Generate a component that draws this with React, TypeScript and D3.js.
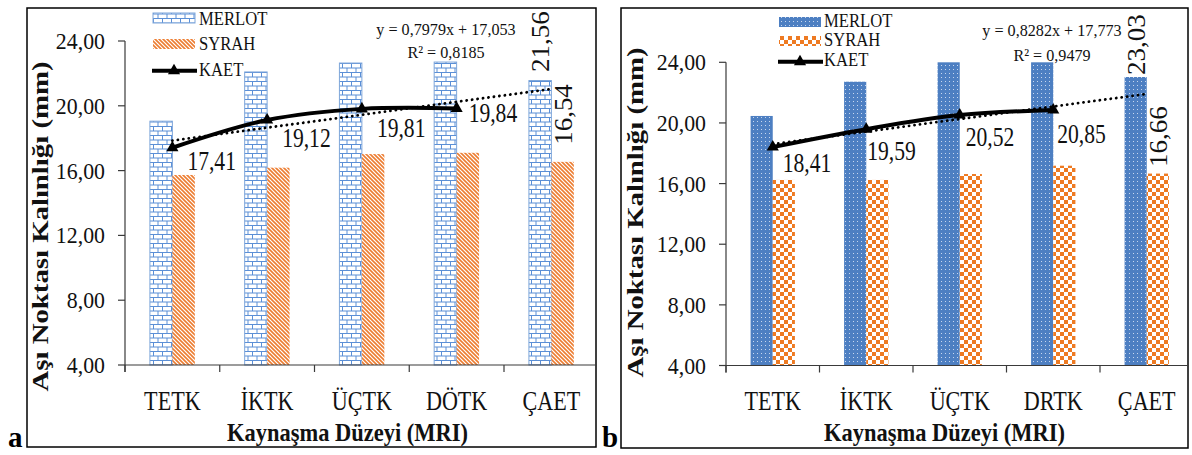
import React from "react";
import * as d3 from "d3";

// ---------------- DATA ----------------
const categoriesA = ["TETK", "İKTK", "ÜÇTK", "DÖTK", "ÇAET"];
const merlotA = [19.05, 22.09, 22.64, 22.7, 21.56];
const syrahA = [15.73, 16.18, 17.02, 17.1, 16.54];
const kaetA = [17.41, 19.12, 19.81, 19.84];
const trendA = [0.7979, 17.053];
const r2A = 0.8185;

const categoriesB = ["TETK", "İKTK", "ÜÇTK", "DRTK", "ÇAET"];
const merlotB = [20.46, 22.72, 24.0, 24.0, 23.03];
const syrahB = [16.24, 16.24, 16.63, 17.18, 16.66];
const kaetB = [18.41, 19.59, 20.52, 20.85];
const trendB = [0.8282, 17.773];
const r2B = 0.9479;

const yTicks = [4, 8, 12, 16, 20, 24];
const seriesNames = ["MERLOT", "SYRAH", "KAET"];
const xTitle = "Kaynaşma Düzeyi (MRI)";
const yTitle = "Aşı Noktası Kalınlığı (mm)";

// ---------------- STYLE ----------------
const FONT = '"Liberation Serif", "Times New Roman", Times, serif';
const fmt = (v: number) => v.toFixed(2).replace(".", ",");
const fmtEq = (v: number) => String(v).replace(".", ",");

type Layout = {
  frame: [number, number, number, number];
  plotLeft: number;
  band: number;
  yRange: [number, number];
  merlotFill: string;
  syrahFill: string;
  merlotStroke: string;
  labelDx: number[];
  labelDy: number[];
  rotGap: [number, number];
  legend: { x: number; y: number[]; textX: number; base: number[] };
  eq: { x: number; y: [number, number] };
  yTitle: { x: number; y: number };
  xTitleX: number;
  letter: { ch: string; x: number };
};

const layoutA: Layout = {
  frame: [27, 8, 596, 447],
  plotLeft: 125,
  band: 94.75,
  yRange: [365, 41],
  merlotFill: "url(#brick)",
  syrahFill: "url(#stripe)",
  merlotStroke: "#7ea6da",
  labelDx: [15, 15, 15, 12],
  labelDy: [22, 27, 28, 14],
  rotGap: [8.5, 17],
  legend: { x: 153, y: [13, 39, 70.7], textX: 199, base: [25, 50, 76] },
  eq: { x: 446, y: [35, 58] },
  yTitle: { x: 48, y: 226.5 },
  xTitleX: 347.5,
  letter: { ch: "a", x: 8 },
};

const layoutB: Layout = {
  frame: [621, 8, 1188, 448],
  plotLeft: 726,
  band: 93.5,
  yRange: [365.5, 62.3],
  merlotFill: "url(#dots)",
  syrahFill: "url(#checker)",
  merlotStroke: "none",
  labelDx: [10, 1, 6, 4],
  labelDy: [25, 31, 31, 33],
  rotGap: [2, 6.6],
  legend: { x: 779, y: [17, 36, 61.7], textX: 824, base: [27, 46, 66] },
  eq: { x: 1052, y: [36, 61] },
  yTitle: { x: 643, y: 212.5 },
  xTitleX: 944.5,
  letter: { ch: "b", x: 602 },
};

type PanelProps = {
  cats: string[];
  merlot: number[];
  syrah: number[];
  kaet: number[];
  trend: number[];
  r2: number;
  L: Layout;
};

const tri = d3.symbol(d3.symbolTriangle, 64)() as string;

function Panel({ cats, merlot, syrah, kaet, trend, r2, L }: PanelProps) {
  const [fx0, fy0, fx1, fy1] = L.frame;
  const x = d3
    .scaleBand<string>()
    .domain(cats)
    .range([L.plotLeft, L.plotLeft + L.band * cats.length])
    .paddingInner(0)
    .paddingOuter(0);
  const y = d3.scaleLinear().domain([4, 24]).range(L.yRange);
  const bw = x.bandwidth();
  const cx = (c: string) => (x(c) as number) + bw / 2;
  const barW = bw * 0.237;
  const y0 = y(4);

  const linePts: [number, number][] = kaet.map((v, i) => [cx(cats[i]), y(v)]);
  const curve = d3
    .line<[number, number]>()
    .curve(d3.curveCatmullRom.alpha(0.5))(linePts) as string;

  const tLine = d3.line<[number, number]>()([
    [cx(cats[0]), y(trend[0] * 1 + trend[1])],
    [cx(cats[cats.length - 1]), y(trend[0] * cats.length + trend[1])],
  ]) as string;

  const axisColor = "#3a3a3a";
  const xTickPos = d3.range(cats.length + 1).map((i) => L.plotLeft + i * L.band).filter((v) => v < fx1 - 1);
  const last = cats.length - 1;
  const lastC = cx(cats[last]);

  return (
    <g>
      <rect x={fx0} y={fy0} width={fx1 - fx0} height={fy1 - fy0} fill="#fff" stroke="#000" strokeWidth={1.5} />

      {/* bars */}
      {cats.map((c, i) => (
        <g key={c}>
          <rect x={cx(c) - barW} y={y(merlot[i])} width={barW} height={y0 - y(merlot[i])} fill={L.merlotFill} stroke={L.merlotStroke} strokeWidth={1} />
          <rect x={cx(c)} y={y(syrah[i])} width={barW} height={y0 - y(syrah[i])} fill={L.syrahFill} />
        </g>
      ))}

      {/* axes */}
      <line x1={L.plotLeft} x2={L.plotLeft} y1={y(24)} y2={y0 + 7} stroke={axisColor} strokeWidth={1.2} />
      {yTicks.map((t) => (
        <g key={t}>
          <line x1={L.plotLeft - 7} x2={L.plotLeft} y1={y(t)} y2={y(t)} stroke={axisColor} strokeWidth={1.2} />
          <text
            transform={`translate(${L.plotLeft - 20},${y(t) + 8}) scale(0.95,1)`}
            textAnchor="end"
            fontFamily={FONT}
            fontSize={23}
            fill="#111"
          >
            {fmt(t)}
          </text>
        </g>
      ))}
      <line x1={L.plotLeft} x2={fx1} y1={y0} y2={y0} stroke={axisColor} strokeWidth={1.2} />
      {xTickPos.map((p) => (
        <line key={p} x1={p} x2={p} y1={y0} y2={y0 + 7} stroke={axisColor} strokeWidth={1.2} />
      ))}
      {cats.map((c) => (
        <text
          key={c}
          transform={`translate(${cx(c)},410) scale(0.82,1)`}
          textAnchor="middle"
          fontFamily={FONT}
          fontSize={27}
          fill="#111"
        >
          {c}
        </text>
      ))}

      {/* trend + KAET line */}
      <path d={tLine} fill="none" stroke="#000" strokeWidth={2.8} strokeDasharray="0.1 5.4" strokeLinecap="round" />
      <path d={curve} fill="none" stroke="#000" strokeWidth={4} strokeLinejoin="round" />
      {linePts.map(([px, py], i) => (
        <path key={i} d={tri} transform={`translate(${px},${py})`} fill="#000" />
      ))}
      {kaet.map((v, i) => (
        <text
          key={i}
          transform={`translate(${linePts[i][0] + L.labelDx[i]},${linePts[i][1] + L.labelDy[i]}) scale(0.8,1)`}
          fontFamily={FONT}
          fontSize={27}
          fill="#111"
        >
          {fmt(v)}
        </text>
      ))}

      {/* rotated labels on last category */}
      <text
        transform={`translate(${lastC - barW / 2 + 9},${y(merlot[last]) - L.rotGap[0]}) scale(0.9,1) rotate(-90)`}
        fontFamily={FONT}
        fontSize={27}
        fill="#111"
      >
        {fmt(merlot[last])}
      </text>
      <text
        transform={`translate(${lastC + barW / 2 + 9},${y(syrah[last]) - L.rotGap[1]}) scale(0.9,1) rotate(-90)`}
        fontFamily={FONT}
        fontSize={27}
        fill="#111"
      >
        {fmt(syrah[last])}
      </text>

      {/* equation */}
      <text transform={`translate(${L.eq.x},${L.eq.y[0]}) scale(0.95,1)`} textAnchor="middle" fontFamily={FONT} fontSize={17} fill="#111">
        {`y = ${fmtEq(trend[0])}x + ${fmtEq(trend[1])}`}
      </text>
      <text transform={`translate(${L.eq.x},${L.eq.y[1]}) scale(0.95,1)`} textAnchor="middle" fontFamily={FONT} fontSize={17} fill="#111">
        {`R² = ${fmtEq(r2)}`}
      </text>

      {/* legend */}
      <rect x={L.legend.x} y={L.legend.y[0]} width={42} height={10} fill={L.merlotFill} stroke={L.merlotStroke} strokeWidth={1} />
      <rect x={L.legend.x} y={L.legend.y[1]} width={42} height={10} fill={L.syrahFill} />
      <line x1={L.legend.x - 1} x2={L.legend.x + 44} y1={L.legend.y[2]} y2={L.legend.y[2]} stroke="#000" strokeWidth={4} />
      <path d={tri} transform={`translate(${L.legend.x + 21},${L.legend.y[2]})`} fill="#000" />
      {seriesNames.map((n, i) => (
        <text
          key={n}
          transform={`translate(${L.legend.textX},${L.legend.base[i]}) scale(0.9,1)`}
          fontFamily={FONT}
          fontSize={18.5}
          fill="#111"
        >
          {n}
        </text>
      ))}

      {/* titles */}
      <text
        transform={`translate(${L.yTitle.x},${L.yTitle.y}) scale(0.85,1) rotate(-90)`}
        textAnchor="middle"
        fontFamily={FONT}
        fontWeight="bold"
        fontSize={26}
        textLength={330}
        lengthAdjust="spacingAndGlyphs"
        fill="#111"
      >
        {yTitle}
      </text>
      <text
        x={L.xTitleX}
        y={441}
        textAnchor="middle"
        fontFamily={FONT}
        fontWeight="bold"
        fontSize={26}
        textLength={241}
        lengthAdjust="spacingAndGlyphs"
        fill="#111"
      >
        {xTitle}
      </text>
      <text x={L.letter.x} y={447} fontFamily={FONT} fontWeight="bold" fontSize={29} fill="#000">
        {L.letter.ch}
      </text>
    </g>
  );
}

export default function App() {
  return (
    <svg
      width={1192}
      height={455}
      viewBox="0 0 1192 455"
      style={{ position: "absolute", left: 0, top: 0, background: "#fff" }}
    >
      <defs>
        <pattern id="brick" width={9} height={9} patternUnits="userSpaceOnUse">
          <rect width={9} height={9} fill="#fff" />
          <path d="M0,0.5H9 M0,5H9 M0.5,0V5 M5,5V9" stroke="#5b8fd6" strokeWidth={1} fill="none" />
        </pattern>
        <pattern id="stripe" width={4} height={4} patternUnits="userSpaceOnUse">
          <rect width={4} height={4} fill="#fff" />
          <path d="M-1,-1L5,5 M-1,3L1,5 M3,-1L5,1" stroke="#ed7d31" strokeWidth={1.6} />
        </pattern>
        <pattern id="dots" width={4} height={4} patternUnits="userSpaceOnUse">
          <rect width={4} height={4} fill="#4d7fc2" />
          <rect x={1} y={1} width={1} height={1} fill="#c8d7ee" />
        </pattern>
        <pattern id="checker" width={8} height={8} patternUnits="userSpaceOnUse">
          <rect width={8} height={8} fill="#fff" />
          <rect x={0} y={0} width={4} height={4} fill="#ee7a22" />
          <rect x={4} y={4} width={4} height={4} fill="#ee7a22" />
        </pattern>
      </defs>
      <rect width={1192} height={455} fill="#fff" />
      <Panel cats={categoriesA} merlot={merlotA} syrah={syrahA} kaet={kaetA} trend={trendA} r2={r2A} L={layoutA} />
      <Panel cats={categoriesB} merlot={merlotB} syrah={syrahB} kaet={kaetB} trend={trendB} r2={r2B} L={layoutB} />
    </svg>
  );
}
